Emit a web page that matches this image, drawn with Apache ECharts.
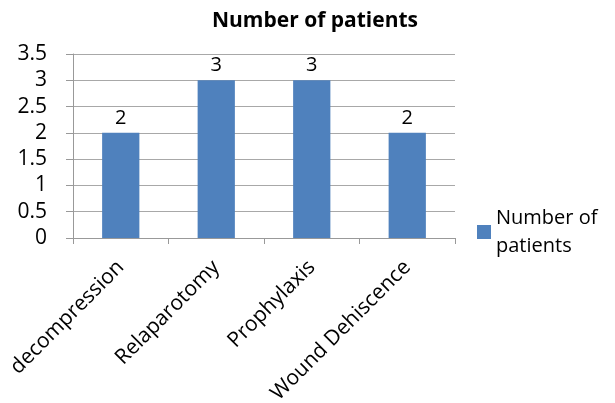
<!DOCTYPE html>
<html>
<head>
<meta charset="utf-8">
<script src="https://cdn.jsdelivr.net/npm/echarts@6/dist/echarts.min.js"></script>
<style>
  html, body { margin: 0; padding: 0; background: #fff; }
  #main { width: 615px; height: 403px; }
</style>
</head>
<body>
<div id="main"></div>
<script>
var categories = ['decompression', 'Relaparotomy', 'Prophylaxis', 'Wound Dehiscence'];
var patients = [2, 3, 3, 2];
var seriesName = 'Number of patients';

var myChart = echarts.init(document.getElementById('main'));
var font = '"Open Sans", "Liberation Sans", sans-serif';

var option = {
    animation: false,
    title: {
        text: seriesName,
        left: 310,
        textAlign: 'center',
        top: 6,
        textStyle: { fontFamily: font, fontSize: 21, fontWeight: 'bold', color: '#000' }
    },
    legend: {
        data: [seriesName],
        orient: 'vertical',
        left: 472,
        top: 199,
        itemWidth: 14,
        itemHeight: 14,
        itemGap: 8,
        icon: 'rect',
        formatter: function () { return 'Number of\npatients'; },
        textStyle: { fontFamily: font, fontSize: 20, color: '#000', lineHeight: 28 }
    },
    grid: { left: 73, right: 160, top: 54, bottom: 165, containLabel: false, outerBoundsMode: 'none' },
    xAxis: {
        type: 'category',
        data: categories,
        axisLine: { lineStyle: { color: '#999' } },
        axisTick: { show: true, length: 6, lineStyle: { color: '#999' } },
        axisLabel: { rotate: 45, fontFamily: font, fontSize: 21, color: '#000', margin: 26, interval: 0 }
    },
    yAxis: {
        type: 'value',
        min: 0,
        max: 3.5,
        interval: 0.5,
        axisLine: { show: true, lineStyle: { color: '#999' } },
        axisTick: { show: true, length: 7, lineStyle: { color: '#999' } },
        axisLabel: { fontFamily: font, fontSize: 21, color: '#000', margin: 26 },
        splitLine: { lineStyle: { color: '#a8a8a8' } }
    },
    series: [{
        name: seriesName,
        type: 'bar',
        data: patients,
        barWidth: '39%',
        itemStyle: { color: '#4f81bd' },
        label: { show: true, position: 'top', fontFamily: font, fontSize: 20, color: '#000', distance: 5 }
    }]
};

myChart.setOption(option);
</script>
</body>
</html>
